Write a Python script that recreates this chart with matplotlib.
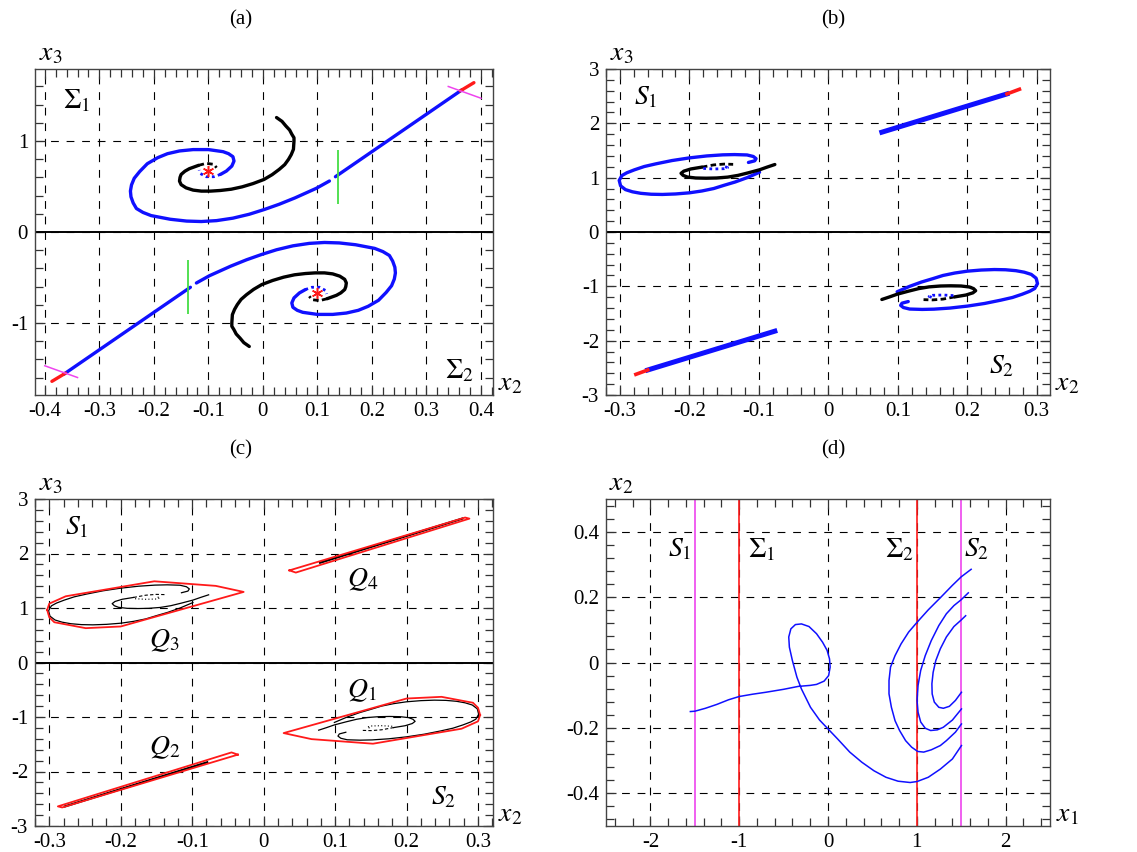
import matplotlib
matplotlib.use('Agg')
import matplotlib.pyplot as plt
from matplotlib.ticker import MultipleLocator, FuncFormatter

plt.rcParams['font.family'] = ['Liberation Serif', 'DejaVu Serif']
plt.rcParams['mathtext.fontset'] = 'stix'
plt.rcParams['axes.unicode_minus'] = False

# ---------- panel (a): spirals on Sigma_1 / Sigma_2 ----------
a_s1_blue_x = [-0.078, -0.067, -0.057, -0.053, -0.055, -0.063, -0.073, -0.100, -0.128, -0.153, -0.175,
               -0.193, -0.212, -0.226, -0.236, -0.241, -0.243, -0.242, -0.238, -0.232, -0.220, -0.205,
               -0.170, -0.140, -0.113, -0.085, -0.055, -0.025, 0.002, 0.030, 0.059, 0.098, 0.122]
a_s1_blue_y = [0.632, 0.669, 0.724, 0.779, 0.827, 0.860, 0.882, 0.905, 0.905, 0.890, 0.860,
               0.816, 0.750, 0.664, 0.590, 0.517, 0.450, 0.387, 0.320, 0.258, 0.215, 0.180,
               0.140, 0.120, 0.115, 0.125, 0.152, 0.195, 0.246, 0.305, 0.375, 0.480, 0.560]
a_s2_blue_x = [0.078, 0.067, 0.057, 0.053, 0.055, 0.063, 0.073, 0.100, 0.128, 0.153, 0.175,
               0.193, 0.212, 0.226, 0.236, 0.241, 0.243, 0.242, 0.238, 0.232, 0.220, 0.205,
               0.170, 0.140, 0.113, 0.085, 0.055, 0.025, -0.002, -0.030, -0.059, -0.098, -0.122]
a_s2_blue_y = [-0.632, -0.669, -0.724, -0.779, -0.827, -0.860, -0.882, -0.905, -0.905, -0.890, -0.860,
               -0.816, -0.750, -0.664, -0.590, -0.517, -0.450, -0.387, -0.320, -0.258, -0.215, -0.180,
               -0.140, -0.120, -0.115, -0.125, -0.152, -0.195, -0.246, -0.305, -0.375, -0.480, -0.560]
a_s1_line_x = [0.133, 0.365]
a_s1_line_y = [0.607, 1.561]
a_s2_line_x = [-0.133, -0.365]
a_s2_line_y = [-0.607, -1.561]
a_s1_red_x = [0.362, 0.387]
a_s1_red_y = [1.550, 1.640]
a_s2_red_x = [-0.362, -0.387]
a_s2_red_y = [-1.550, -1.640]

a_s1_black_x = [0.025, 0.035, 0.042, 0.049, 0.053, 0.057, 0.057, 0.056, 0.052, 0.047, 0.040, 0.030,
                0.017, 0.002, -0.018, -0.038, -0.058, -0.078, -0.096, -0.113, -0.128, -0.141, -0.150,
                -0.153, -0.152, -0.150, -0.143, -0.135, -0.118]
a_s1_black_y = [1.257, 1.215, 1.165, 1.120, 1.074, 1.035, 1.000, 0.908, 0.850, 0.798, 0.740, 0.688,
                0.630, 0.577, 0.532, 0.496, 0.470, 0.456, 0.449, 0.449, 0.460, 0.485, 0.520,
                0.559, 0.600, 0.632, 0.668, 0.695, 0.732]
a_s2_black_x = [-0.025, -0.035, -0.042, -0.049, -0.053, -0.057, -0.057, -0.056, -0.052, -0.047, -0.040,
                -0.030, -0.017, -0.002, 0.018, 0.038, 0.058, 0.078, 0.096, 0.113, 0.128, 0.141, 0.150,
                0.153, 0.152, 0.150, 0.143, 0.135, 0.118]
a_s2_black_y = [-1.257, -1.215, -1.165, -1.120, -1.074, -1.035, -1.000, -0.908, -0.850, -0.798, -0.740,
                -0.688, -0.630, -0.577, -0.532, -0.496, -0.470, -0.456, -0.449, -0.449, -0.460, -0.485,
                -0.520, -0.559, -0.600, -0.632, -0.668, -0.695, -0.732]

a_s1_bdash_x = [-0.118, -0.104, -0.090, -0.085]
a_s1_bdash_y = [0.732, 0.754, 0.743, 0.706]
a_s2_bdash_x = [0.118, 0.104, 0.090, 0.085]
a_s2_bdash_y = [-0.732, -0.754, -0.743, -0.706]
a_s1_bdot_x = [-0.078, -0.090, -0.104, -0.115, -0.117]
a_s1_bdot_y = [0.632, 0.607, 0.607, 0.643, 0.680]
a_s2_bdot_x = [0.078, 0.090, 0.104, 0.115, 0.117]
a_s2_bdot_y = [-0.632, -0.607, -0.607, -0.643, -0.680]

a_star_x = [-0.1, 0.1]
a_star_y = [0.672, -0.672]
a_green_x = [0.138, -0.138]
a_green_y0 = [0.306, -0.306]
a_green_y1 = [0.897, -0.897]
a_mag1_x = [0.340, 0.400]
a_mag1_y = [1.598, 1.469]
a_mag2_x = [-0.400, -0.340]
a_mag2_y = [-1.469, -1.598]

# ---------- panel (b): images on S_1 / S_2 ----------
b_s1_loop_x = [-0.115, -0.106, -0.104, -0.108, -0.117, -0.135, -0.152, -0.175, -0.200, -0.225, -0.248,
               -0.265, -0.279, -0.290, -0.297, -0.301, -0.299, -0.292, -0.282, -0.270, -0.255, -0.239,
               -0.220, -0.200, -0.182, -0.165, -0.150, -0.134, -0.117, -0.099]
b_s1_loop_y = [1.280, 1.310, 1.350, 1.390, 1.418, 1.425, 1.420, 1.400, 1.364, 1.315, 1.255,
               1.205, 1.145, 1.090, 1.040, 0.950, 0.850, 0.780, 0.740, 0.712, 0.695, 0.691,
               0.700, 0.721, 0.755, 0.800, 0.860, 0.921, 1.000, 1.100]
b_s2_loop_x = [0.115, 0.106, 0.104, 0.108, 0.117, 0.135, 0.152, 0.175, 0.200, 0.225, 0.248,
               0.265, 0.279, 0.290, 0.297, 0.301, 0.299, 0.292, 0.282, 0.270, 0.255, 0.239,
               0.220, 0.200, 0.182, 0.165, 0.150, 0.134, 0.117, 0.099]
b_s2_loop_y = [-1.280, -1.310, -1.350, -1.390, -1.418, -1.425, -1.420, -1.400, -1.364, -1.315, -1.255,
               -1.205, -1.145, -1.090, -1.040, -0.950, -0.850, -0.780, -0.740, -0.712, -0.695, -0.691,
               -0.700, -0.721, -0.755, -0.800, -0.860, -0.921, -1.000, -1.100]

b_s1_black_x = [-0.077, -0.088, -0.099, -0.115, -0.130, -0.145, -0.161, -0.176, -0.191, -0.203,
                -0.209, -0.212, -0.208, -0.198, -0.182]
b_s1_black_y = [1.242, 1.195, 1.145, 1.090, 1.042, 1.010, 0.994, 0.990, 0.994, 1.012,
                1.042, 1.080, 1.120, 1.160, 1.194]
b_s2_black_x = [0.077, 0.088, 0.099, 0.115, 0.130, 0.145, 0.161, 0.176, 0.191, 0.203,
                0.209, 0.212, 0.208, 0.198, 0.182]
b_s2_black_y = [-1.242, -1.195, -1.145, -1.090, -1.042, -1.010, -0.994, -0.990, -0.994, -1.012,
                -1.042, -1.080, -1.120, -1.160, -1.194]
b_s1_bdash_x = [-0.182, -0.165, -0.150, -0.137]
b_s1_bdash_y = [1.194, 1.235, 1.250, 1.245]
b_s2_bdash_x = [0.182, 0.165, 0.150, 0.137]
b_s2_bdash_y = [-1.194, -1.235, -1.250, -1.245]
b_s1_bdot_x = [-0.180, -0.165, -0.150, -0.145, -0.150]
b_s1_bdot_y = [1.170, 1.160, 1.165, 1.185, 1.210]
b_s2_bdot_x = [0.180, 0.165, 0.150, 0.145, 0.150]
b_s2_bdot_y = [-1.170, -1.160, -1.165, -1.185, -1.210]

b_s1_line_x = [0.077, 0.257]
b_s1_line_y = [1.837, 2.541]
b_s1_red_x = [0.257, 0.275]
b_s1_red_y = [2.541, 2.627]
b_s2_line_x = [-0.077, -0.260]
b_s2_line_y = [-1.825, -2.540]
b_s2_red_x = [-0.260, -0.277]
b_s2_red_y = [-2.540, -2.620]

# ---------- panel (c): enclosing polygons Q1..Q4 ----------
c_q3_x = [-0.303, -0.300, -0.293, -0.249, -0.200, -0.028, -0.067, -0.153, -0.277, -0.300, -0.303]
c_q3_y = [0.964, 0.830, 0.739, 0.630, 0.661, 1.295, 1.406, 1.490, 1.215, 1.080, 0.964]
c_q1_x = [0.303, 0.300, 0.293, 0.249, 0.200, 0.028, 0.067, 0.153, 0.277, 0.300, 0.303]
c_q1_y = [-0.964, -0.830, -0.739, -0.630, -0.661, -1.295, -1.406, -1.490, -1.215, -1.080, -0.964]
c_q4_x = [0.036, 0.282, 0.288, 0.045, 0.036]
c_q4_y = [1.690, 2.660, 2.640, 1.650, 1.690]
c_q2_x = [-0.036, -0.282, -0.288, -0.045, -0.036]
c_q2_y = [-1.690, -2.660, -2.640, -1.650, -1.690]
c_q4_line_x = [0.079, 0.278]
c_q4_line_y = [1.831, 2.640]
c_q2_line_x = [-0.079, -0.278]
c_q2_line_y = [-1.831, -2.640]

# ---------- panel (d): x1-x2 projection ----------
d_a_x = [-1.55, -1.50, -1.38, -1.25, -1.12, -1.00, -0.85, -0.70, -0.50, -0.333, -0.20, -0.129, -0.044,
         0.007, 0.024, 0.017, -0.010, -0.061, -0.129, -0.214, -0.299, -0.367, -0.418, -0.442, -0.435,
         -0.401, -0.350, -0.299, -0.197, -0.095, 0.0, 0.109, 0.245, 0.381, 0.517, 0.653, 0.789, 0.925,
         1.003, 1.129, 1.265, 1.401, 1.503]
d_a_y = [-0.150, -0.149, -0.140, -0.128, -0.114, -0.104, -0.097, -0.091, -0.082, -0.073, -0.070, -0.067,
         -0.057, -0.040, -0.014, 0.011, 0.037, 0.062, 0.088, 0.110, 0.118, 0.116, 0.103, 0.078, 0.047,
         0.006, -0.045, -0.081, -0.137, -0.176, -0.203, -0.234, -0.274, -0.305, -0.331, -0.351, -0.363,
         -0.367, -0.364, -0.351, -0.326, -0.295, -0.254]
d_b_x = [1.612, 1.50, 1.401, 1.265, 1.129, 1.003, 0.908, 0.823, 0.755, 0.704, 0.687, 0.687, 0.714,
         0.755, 0.806, 0.874, 0.942, 1.010, 1.078, 1.163, 1.265, 1.333, 1.435, 1.503]
d_b_y = [0.285, 0.262, 0.236, 0.198, 0.161, 0.123, 0.093, 0.057, 0.021, -0.014, -0.055, -0.096, -0.137,
         -0.178, -0.208, -0.239, -0.259, -0.272, -0.274, -0.267, -0.254, -0.239, -0.213, -0.188]
d_c_x = [1.58, 1.50, 1.418, 1.333, 1.248, 1.163, 1.095, 1.044, 1.014, 1.003, 1.014, 1.044, 1.095,
         1.156, 1.231, 1.299, 1.401, 1.503]
d_c_y = [0.213, 0.192, 0.174, 0.149, 0.113, 0.067, 0.021, -0.024, -0.070, -0.116, -0.152, -0.182,
         -0.201, -0.208, -0.206, -0.198, -0.176, -0.142]
d_d_x = [1.55, 1.50, 1.418, 1.333, 1.265, 1.214, 1.184, 1.170, 1.173, 1.197, 1.248, 1.299, 1.367,
         1.435, 1.503]
d_d_y = [0.143, 0.130, 0.110, 0.078, 0.042, 0.006, -0.030, -0.065, -0.096, -0.121, -0.137, -0.140,
         -0.134, -0.116, -0.091]
d_vline_mag = [-1.5, 1.5]
d_vline_red = [-1.0, 1.0]

BLUE = '#1010ff'
RED = '#ff1a1a'
MAG = '#ee44ee'
GREEN = '#44dd44'


def fmt(v, pos):
    v = round(v, 4) + 0.0
    return f'{v:g}'


def setup(ax, xlim, ylim, xmaj, xmin, ymaj, ymin, solid_zero=True):
    ax.set_xlim(xlim)
    ax.set_ylim(ylim)
    ax.xaxis.set_major_locator(MultipleLocator(xmaj))
    ax.xaxis.set_minor_locator(MultipleLocator(xmin))
    ax.yaxis.set_major_locator(MultipleLocator(ymaj))
    ax.yaxis.set_minor_locator(MultipleLocator(ymin))
    ax.xaxis.set_major_formatter(FuncFormatter(fmt))
    ax.yaxis.set_major_formatter(FuncFormatter(fmt))
    ax.tick_params(which='both', direction='in', top=True, right=True, labelsize=15,
                   color='#333333', width=0.9)
    ax.tick_params(which='major', length=7, pad=5)
    ax.tick_params(which='minor', length=6)
    ax.set_axisbelow(True)
    ax.grid(True, which='major', color='k', linestyle=(0, (7, 7)), lw=0.8)
    if solid_zero:
        ax.axhline(0, color='k', lw=1.4, zorder=1)
    for s in ax.spines.values():
        s.set_color('#444444')
        s.set_linewidth(1.0)


W, H = 1137, 852
fig = plt.figure(figsize=(W / 100, H / 100), dpi=100)
ax_a = fig.add_axes([35 / W, 1 - 395 / H, 458 / W, 326 / H])
ax_b = fig.add_axes([606 / W, 1 - 395 / H, 444 / W, 326 / H])
ax_c = fig.add_axes([35 / W, 1 - 826 / H, 458 / W, 327 / H])
ax_d = fig.add_axes([606 / W, 1 - 826 / H, 444 / W, 327 / H])

LAB = 20

# (a)
ax = ax_a
setup(ax, (-0.418, 0.422), (-1.79, 1.79), 0.1, 0.02, 1, 0.2)
thick = dict(lw=2.4, solid_capstyle='round', solid_joinstyle='round')
ax.plot(a_s1_blue_x, a_s1_blue_y, color=BLUE, **thick)
ax.plot(a_s2_blue_x, a_s2_blue_y, color=BLUE, **thick)
ax.plot(a_s1_line_x, a_s1_line_y, color=BLUE, **thick)
ax.plot(a_s2_line_x, a_s2_line_y, color=BLUE, **thick)
ax.plot(a_s1_red_x, a_s1_red_y, color=RED, **thick)
ax.plot(a_s2_red_x, a_s2_red_y, color=RED, **thick)
ax.plot(a_s1_black_x, a_s1_black_y, color='k', **thick)
ax.plot(a_s2_black_x, a_s2_black_y, color='k', **thick)
ax.plot(a_s1_bdash_x, a_s1_bdash_y, color='k', lw=2, ls=(0, (2, 1.2)))
ax.plot(a_s2_bdash_x, a_s2_bdash_y, color='k', lw=2, ls=(0, (2, 1.2)))
ax.plot(a_s1_bdot_x, a_s1_bdot_y, color=BLUE, lw=2, ls=(0, (1, 1.2)))
ax.plot(a_s2_bdot_x, a_s2_bdot_y, color=BLUE, lw=2, ls=(0, (1, 1.2)))
ax.plot(a_star_x, a_star_y, ls='none', marker=(6, 2, 0), ms=8, mew=1.1, color=RED)
ax.vlines(a_green_x, a_green_y0, a_green_y1, color=GREEN, lw=1.3)
ax.plot(a_mag1_x, a_mag1_y, color=MAG, lw=1.1)
ax.plot(a_mag2_x, a_mag2_y, color=MAG, lw=1.1)
ax.text(-0.341, 1.44, r'$\Sigma_1$', fontsize=LAB, ha='center', va='center')
ax.text(0.361, -1.524, r'$\Sigma_2$', fontsize=LAB, ha='center', va='center')

# (b)
ax = ax_b
setup(ax, (-0.32, 0.319), (-3, 3), 0.1, 0.02, 1, 0.2)
ax.plot(b_s1_loop_x, b_s1_loop_y, color=BLUE, **thick)
ax.plot(b_s2_loop_x, b_s2_loop_y, color=BLUE, **thick)
ax.plot(b_s1_black_x, b_s1_black_y, color='k', **thick)
ax.plot(b_s2_black_x, b_s2_black_y, color='k', **thick)
ax.plot(b_s1_bdash_x, b_s1_bdash_y, color='k', lw=2, ls=(0, (2, 1.2)))
ax.plot(b_s2_bdash_x, b_s2_bdash_y, color='k', lw=2, ls=(0, (2, 1.2)))
ax.plot(b_s1_bdot_x, b_s1_bdot_y, color=BLUE, lw=2, ls=(0, (1, 1.2)))
ax.plot(b_s2_bdot_x, b_s2_bdot_y, color=BLUE, lw=2, ls=(0, (1, 1.2)))
ax.plot(b_s1_line_x, b_s1_line_y, color=BLUE, lw=3.6)
ax.plot(b_s2_line_x, b_s2_line_y, color=BLUE, lw=3.6)
ax.plot(b_s1_red_x, b_s1_red_y, color=RED, lw=2.6)
ax.plot(b_s2_red_x, b_s2_red_y, color=RED, lw=2.6)
ax.text(-0.263, 2.48, r'$S_1$', fontsize=LAB, ha='center', va='center')
ax.text(0.250, -2.47, r'$S_2$', fontsize=LAB, ha='center', va='center')

# (c)
ax = ax_c
setup(ax, (-0.32, 0.321), (-3, 3), 0.1, 0.02, 1, 0.2)
thin = dict(color='k', lw=0.9)
ax.plot(b_s1_loop_x, b_s1_loop_y, **thin)
ax.plot(b_s2_loop_x, b_s2_loop_y, **thin)
ax.plot(b_s1_black_x, b_s1_black_y, **thin)
ax.plot(b_s2_black_x, b_s2_black_y, **thin)
ax.plot(b_s1_bdash_x, b_s1_bdash_y, color='k', lw=0.8, ls=(0, (3, 2)))
ax.plot(b_s2_bdash_x, b_s2_bdash_y, color='k', lw=0.8, ls=(0, (3, 2)))
ax.plot(b_s1_bdot_x, b_s1_bdot_y, color='k', lw=0.8, ls=(0, (1, 2)))
ax.plot(b_s2_bdot_x, b_s2_bdot_y, color='k', lw=0.8, ls=(0, (1, 2)))
ax.plot(c_q4_line_x, c_q4_line_y, color='k', lw=1.6)
ax.plot(c_q2_line_x, c_q2_line_y, color='k', lw=1.6)
for px, py in [(c_q1_x, c_q1_y), (c_q2_x, c_q2_y), (c_q3_x, c_q3_y), (c_q4_x, c_q4_y)]:
    ax.plot(px, py, color=RED, lw=1.3)
ax.text(-0.262, 2.48, r'$S_1$', fontsize=LAB, ha='center', va='center')
ax.text(0.252, -2.47, r'$S_2$', fontsize=LAB, ha='center', va='center')
ax.text(0.138, 1.525, r'$Q_4$', fontsize=LAB, ha='center', va='center')
ax.text(-0.139, 0.40, r'$Q_3$', fontsize=LAB, ha='center', va='center')
ax.text(0.138, -0.51, r'$Q_1$', fontsize=LAB, ha='center', va='center')
ax.text(-0.139, -1.56, r'$Q_2$', fontsize=LAB, ha='center', va='center')

# (d)
ax = ax_d
setup(ax, (-2.5, 2.5), (-0.5, 0.5), 1, 0.2, 0.2, 0.04, solid_zero=False)
for v in d_vline_mag:
    ax.axvline(v, color=MAG, lw=1.2)
for v in d_vline_red:
    ax.axvline(v, color=RED, lw=1.2)
for cx, cy in [(d_a_x, d_a_y), (d_b_x, d_b_y), (d_c_x, d_c_y), (d_d_x, d_d_y)]:
    ax.plot(cx, cy, color=BLUE, lw=1.1)
ax.text(-1.665, 0.344, r'$S_1$', fontsize=LAB, ha='center', va='center')
ax.text(-0.75, 0.344, r'$\Sigma_1$', fontsize=LAB, ha='center', va='center')
ax.text(0.806, 0.344, r'$\Sigma_2$', fontsize=LAB, ha='center', va='center')
ax.text(1.672, 0.344, r'$S_2$', fontsize=LAB, ha='center', va='center')

# axis names and panel titles
for ax, top, right in [(ax_a, r'$x_3$', r'$x_2$'), (ax_b, r'$x_3$', r'$x_2$'),
                       (ax_c, r'$x_3$', r'$x_2$'), (ax_d, r'$x_2$', r'$x_1$')]:
    ax.text(0.035, 1.045, top, transform=ax.transAxes, fontsize=LAB, ha='center', va='center')
    ax.text(1.038, 0.035, right, transform=ax.transAxes, fontsize=LAB, ha='center', va='center')

fig.text(241 / W, 1 - 20 / H, '(a)', fontsize=15, ha='center', va='center')
fig.text(833 / W, 1 - 20 / H, '(b)', fontsize=15, ha='center', va='center')
fig.text(241 / W, 1 - 450 / H, '(c)', fontsize=15, ha='center', va='center')
fig.text(833 / W, 1 - 450 / H, '(d)', fontsize=15, ha='center', va='center')

fig.savefig('out.png', dpi=100)
